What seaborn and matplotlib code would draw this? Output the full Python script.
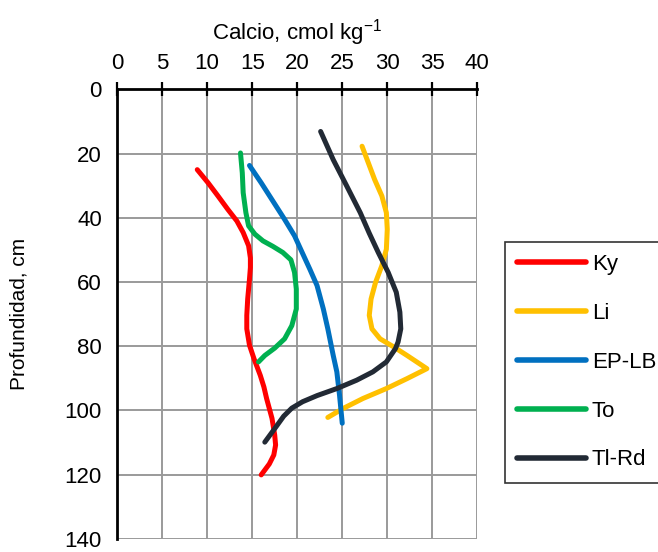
import matplotlib
matplotlib.use("Agg")
import matplotlib.pyplot as plt
import seaborn as sns
import pandas as pd

ky_x = [8.9, 10.1, 11.2, 12.3, 13.3, 14.0, 14.6, 14.8, 14.8, 14.7, 14.5, 14.4, 14.4, 14.7,
        15.2, 15.9, 16.3, 16.6, 17.2, 17.5, 17.6, 17.4, 16.9, 16.0]
ky_y = [25.0, 29.1, 33.2, 37.4, 41.0, 44.6, 48.7, 52.5, 55.5, 59.1, 65.3, 70.4, 74.6, 79.7,
        83.9, 89.1, 92.7, 96.3, 102.5, 107.7, 110.8, 113.9, 116.7, 120.1]

li_x = [27.2, 27.9, 28.6, 29.4, 29.9, 30.0, 29.9, 29.4, 28.7, 28.2, 28.0, 28.3, 29.2, 30.7,
        32.2, 34.4, 32.2, 29.9, 27.3, 25.1, 23.4]
li_y = [17.7, 22.9, 28.1, 33.2, 38.4, 43.6, 49.8, 54.9, 60.1, 65.3, 70.4, 74.6, 77.7, 80.2,
        82.9, 87.0, 90.1, 93.2, 96.3, 99.4, 102.2]

ep_x = [14.7, 16.0, 17.3, 18.6, 19.7, 20.5, 21.4, 22.2, 22.9, 23.4, 24.0, 24.4, 24.7, 25.0]
ep_y = [23.7, 29.1, 34.8, 40.5, 45.6, 50.5, 56.0, 61.1, 68.4, 74.6, 82.9, 88.0, 95.3, 104.0]

to_x = [13.7, 13.9, 14.0, 14.3, 14.6, 15.3, 16.2, 17.3, 18.4, 19.3, 19.7, 19.9, 19.9, 19.4,
        18.6, 17.5, 16.4, 15.7]
to_y = [19.8, 26.0, 32.2, 38.4, 42.5, 45.1, 47.2, 48.9, 50.8, 53.1, 57.0, 62.2, 68.4, 73.6,
        77.7, 80.6, 82.9, 84.9]

tl_x = [22.6, 24.0, 25.5, 27.0, 28.0, 29.0, 30.1, 31.0, 31.4, 31.5, 31.2, 30.9, 29.9, 28.4,
        26.6, 24.4, 22.2, 20.6, 19.4, 18.5, 17.6, 16.4]
tl_y = [13.1, 21.9, 30.1, 38.4, 44.8, 50.8, 57.0, 63.2, 69.4, 74.6, 78.7, 80.8, 84.9, 88.0,
        90.6, 93.2, 95.4, 97.3, 99.3, 101.8, 105.3, 109.9]

series = ["Ky", "Li", "EP-LB", "To", "Tl-Rd"]
colors = ["#FF0000", "#FFC000", "#0070C0", "#00B050", "#222A35"]
x_ticks = [0, 5, 10, 15, 20, 25, 30, 35, 40]
y_ticks = [0, 20, 40, 60, 80, 100, 120, 140]

frames = []
for name, xs, ys in zip(series, [ky_x, li_x, ep_x, to_x, tl_x], [ky_y, li_y, ep_y, to_y, tl_y]):
    frames.append(pd.DataFrame({"calcio": xs, "prof": ys, "serie": name}))
df = pd.concat(frames, ignore_index=True)

sns.set_style("white")
fam = ["Liberation Sans Narrow", "Liberation Sans", "DejaVu Sans"]
plt.rcParams["font.family"] = fam
plt.rcParams["text.color"] = "black"
plt.rcParams["axes.labelcolor"] = "black"

fig = plt.figure(figsize=(6.58, 5.52), dpi=100)
ax = fig.add_axes([0.178, 0.024, 0.5474, 0.814])

sns.lineplot(data=df, x="calcio", y="prof", hue="serie", hue_order=series,
             palette=dict(zip(series, colors)), sort=False, estimator=None,
             units="serie", linewidth=3.6, ax=ax, legend=True)
for ln in ax.get_lines():
    ln.set_solid_capstyle("round")
    ln.set_solid_joinstyle("round")

ax.set_xlim(0, 40)
ax.set_ylim(140, 0)
ax.set_xticks(x_ticks)
ax.set_yticks(y_ticks)
ax.xaxis.tick_top()
ax.xaxis.set_label_position("top")
ax.grid(True, color="#9a9a9a", linewidth=1.4)
ax.set_axisbelow(True)
for s in ["right", "bottom"]:
    ax.spines[s].set_visible(False)
for s in ["top", "left"]:
    ax.spines[s].set_color("black")
    ax.spines[s].set_linewidth(2.0)
ax.tick_params(axis="both", direction="inout", length=10, width=1.6,
               colors="black", labelsize=16, labelcolor="black")
ax.tick_params(axis="x", pad=6)
ax.tick_params(axis="y", pad=6)
ax.set_xlabel("Calcio, cmol kg$^{\\mathregular{-1}}$", fontsize=16, labelpad=10, color="black")
ax.set_ylabel("Profundidad, cm", fontsize=15, labelpad=26, color="black")

handles, labels = ax.get_legend_handles_labels()
for h in handles:
    h.set_linewidth(4)
    h.set_solid_capstyle("round")
leg = ax.legend(handles, labels, loc="upper left",
                bbox_to_anchor=(505 / 658, 1 - 242 / 552), bbox_transform=fig.transFigure,
                frameon=True, fancybox=False, edgecolor="black", fontsize=16,
                handlelength=3.1, handletextpad=0.25, labelspacing=1.25,
                borderpad=0.55, borderaxespad=0)
leg.get_frame().set_linewidth(1.2)
for t in leg.get_texts():
    t.set_color("black")

fig.savefig("out.png", dpi=100)
